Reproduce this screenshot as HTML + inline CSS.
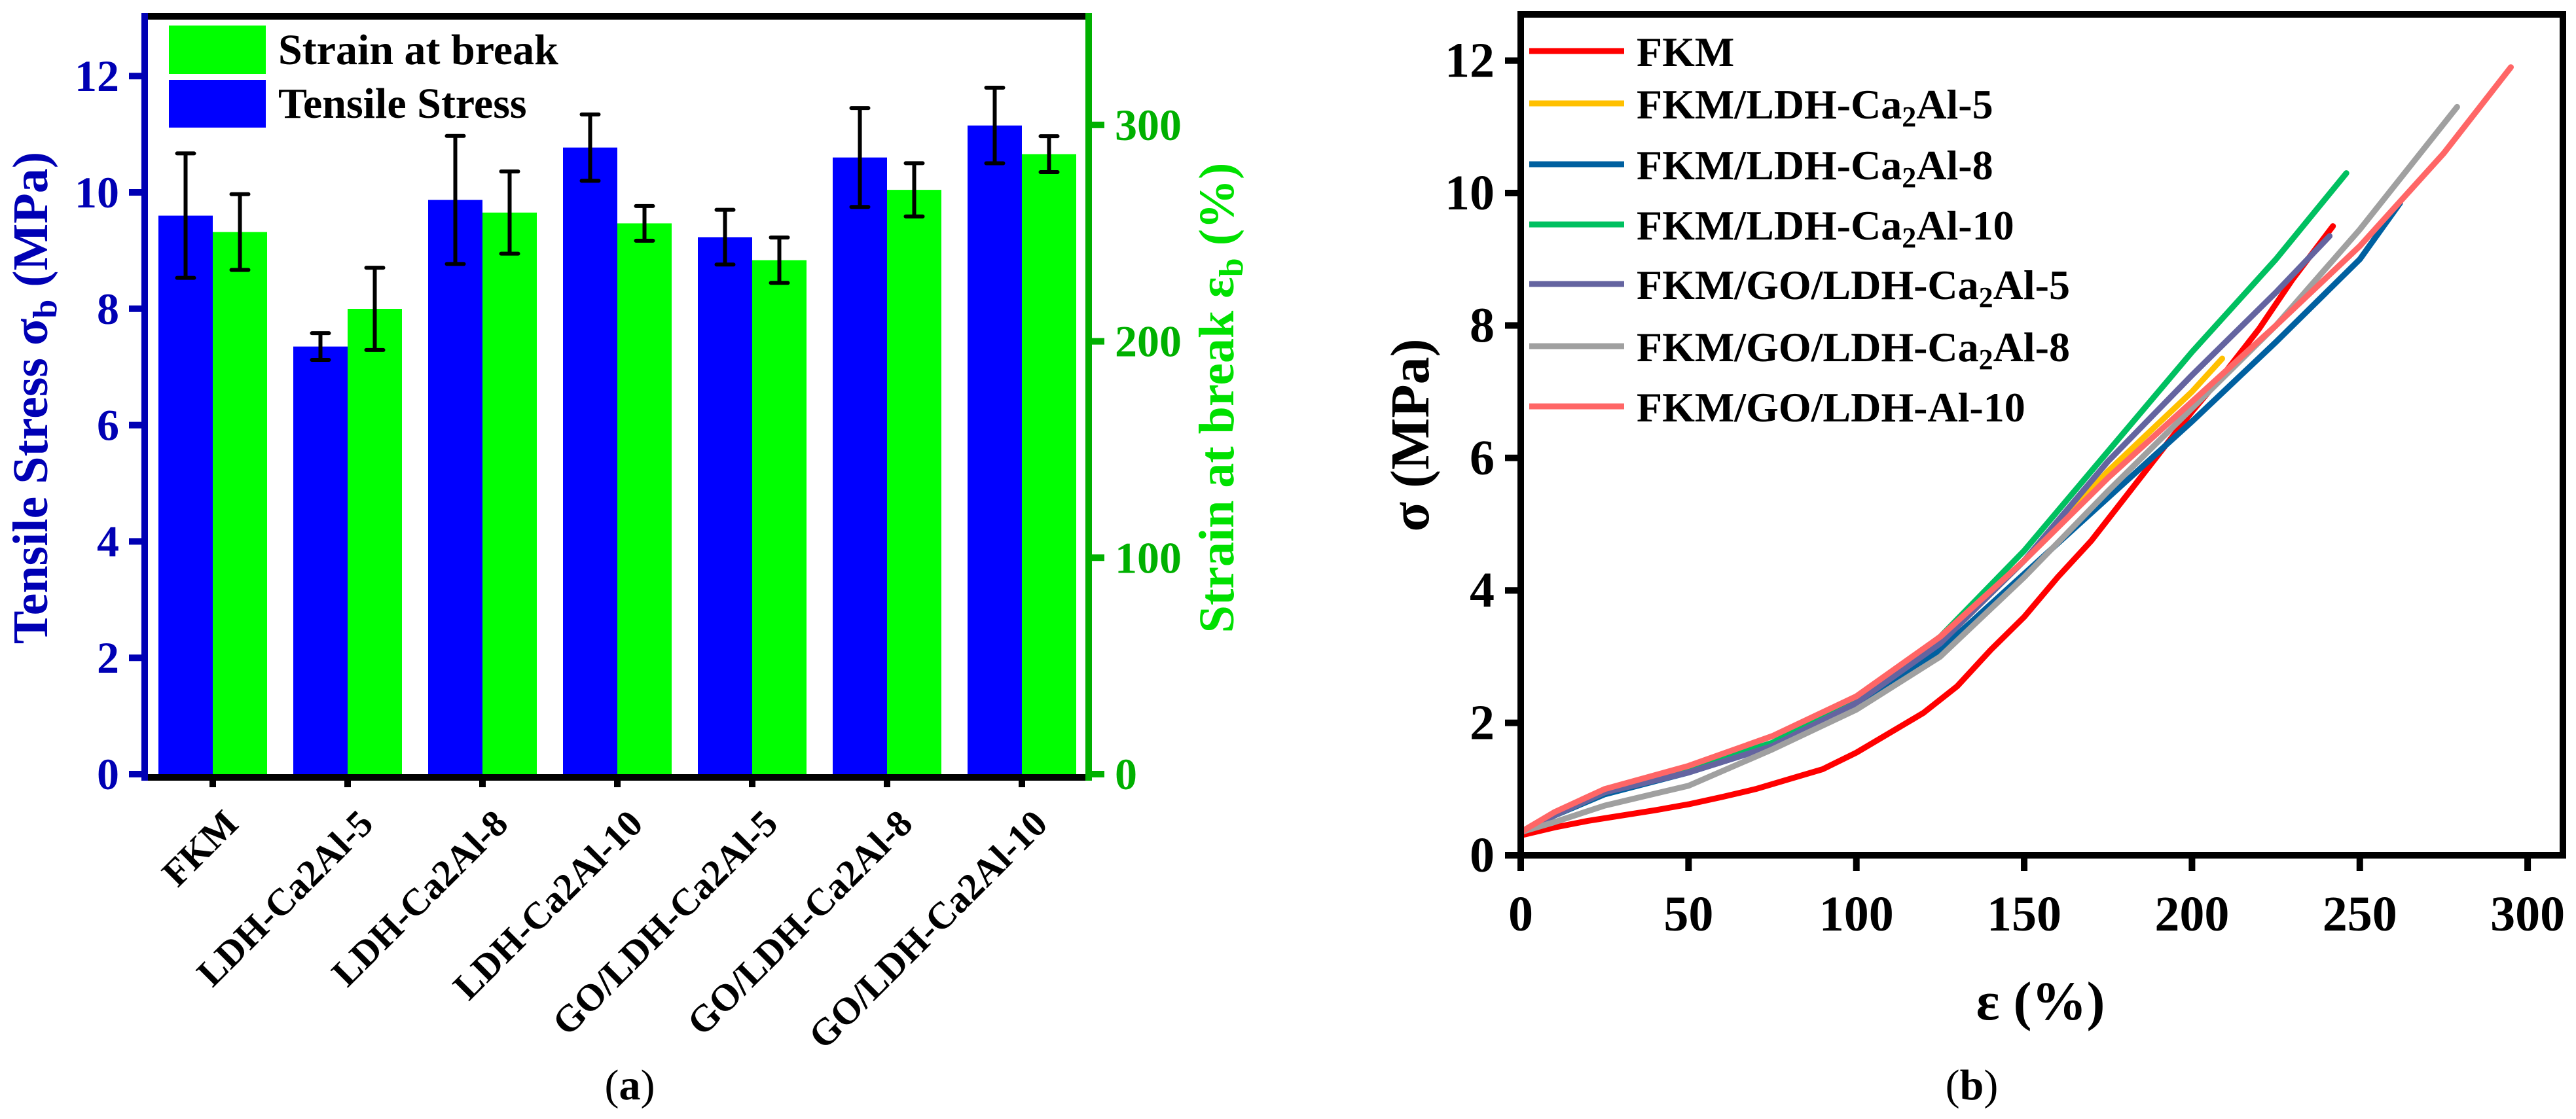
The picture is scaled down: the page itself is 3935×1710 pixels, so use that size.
<!DOCTYPE html>
<html><head><meta charset="utf-8">
<style>
html,body{margin:0;padding:0;background:#fff;}
svg{display:block;font-family:"Liberation Serif","DejaVu Serif",serif;font-weight:bold;}
</style></head>
<body>
<svg id="fig" width="3935" height="1710" viewBox="0 0 3935 1710" xmlns="http://www.w3.org/2000/svg" font-family="Liberation Serif, serif">
<g id="pa"></g>
<g id="pb"></g>
<text x="962" y="1680" font-size="66" font-weight="normal" text-anchor="middle">(<tspan font-weight="bold">a</tspan>)</text>
<text x="3012" y="1680" font-size="66" font-weight="normal" text-anchor="middle">(<tspan font-weight="bold">b</tspan>)</text>
</svg>
<script>
const categories = ["FKM","LDH-Ca2Al-5","LDH-Ca2Al-8","LDH-Ca2Al-10","GO/LDH-Ca2Al-5","GO/LDH-Ca2Al-8","GO/LDH-Ca2Al-10"];
const stressVals = [9.6, 7.35, 9.87, 10.77, 9.23, 10.6, 11.15];
const stressErr = [1.07, 0.23, 1.1, 0.57, 0.47, 0.85, 0.65];
const strainVals = [250.5, 215, 259.5, 254.5, 237.5, 270, 286.5];
const strainErr = [17.5, 19, 19, 8, 10.5, 12.3, 8.3];
const leftTicks = [0,2,4,6,8,10,12];
const rightTicks = [0,100,200,300];

const xTicksB = [0,50,100,150,200,250,300];
const yTicksB = [0,2,4,6,8,10,12];
const seriesNames = ["FKM","FKM/LDH-Ca2Al-5","FKM/LDH-Ca2Al-8","FKM/LDH-Ca2Al-10","FKM/GO/LDH-Ca2Al-5","FKM/GO/LDH-Ca2Al-8","FKM/GO/LDH-Al-10"];
const sFKM_x = [0,10,20,30,40,50,60,70,80,90,100,110,120,130,140,150,160,170,180,190,200,210,220,230,242];
const sFKM_y = [0.3,0.42,0.52,0.6,0.68,0.77,0.88,1.0,1.15,1.3,1.55,1.85,2.15,2.55,3.1,3.6,4.2,4.75,5.4,6.05,6.7,7.3,7.95,8.7,9.5];
const sL5_x = [0,10,25,50,75,100,125,150,175,200,209];
const sL5_y = [0.35,0.6,0.95,1.28,1.68,2.3,3.2,4.45,5.8,7.0,7.5];
const sL8_x = [0,10,25,50,75,100,125,150,175,200,225,250,262];
const sL8_y = [0.35,0.6,0.92,1.25,1.65,2.25,3.1,4.25,5.4,6.55,7.75,9.0,9.85];
const sL10_x = [0,10,25,50,75,100,125,150,175,200,225,246];
const sL10_y = [0.35,0.6,0.95,1.3,1.7,2.35,3.3,4.6,6.1,7.6,9.0,10.3];
const sG5_x = [0,10,25,50,75,100,125,150,175,200,225,241];
const sG5_y = [0.35,0.6,0.95,1.25,1.65,2.3,3.2,4.45,5.95,7.25,8.5,9.35];
const sG8_x = [0,10,25,50,75,100,125,150,175,200,225,250,279];
const sG8_y = [0.35,0.5,0.75,1.05,1.6,2.2,3.0,4.2,5.5,6.75,8.0,9.45,11.3];
const sG10_x = [0,10,25,50,75,100,125,150,175,200,225,250,275,295];
const sG10_y = [0.35,0.65,1.0,1.35,1.8,2.4,3.3,4.45,5.7,6.85,8.0,9.2,10.6,11.9];
const seriesX = [sFKM_x,sL5_x,sL8_x,sL10_x,sG5_x,sG8_x,sG10_x];
const seriesY = [sFKM_y,sL5_y,sL8_y,sL10_y,sG5_y,sG8_y,sG10_y];
const seriesColors = ["#ff0000","#ffc000","#0060a0","#00c060","#6464a0","#a0a0a0","#ff6666"];

const NS="http://www.w3.org/2000/svg";
function mk(parent,tag,attrs){const e=document.createElementNS(NS,tag);for(const k in attrs)e.setAttribute(k,attrs[k]);parent.appendChild(e);return e;}

// ---------- Panel A ----------
const pa=document.getElementById('pa');
const AL=221, AR=1663, AT=25, AB=1183;
const ya=v=>AB-v*88.9;
const ya2=p=>AB-p*3.307;
const xc=i=>325+i*206;
const bw=83;
categories.forEach((c,i)=>{
  const b=mk(pa,'rect',{x:xc(i)-bw,y:ya(stressVals[i]),width:bw,height:AB-ya(stressVals[i]),fill:'#0000ff'});
  
  
  const g=mk(pa,'rect',{x:xc(i),y:ya2(strainVals[i]),width:bw,height:AB-ya2(strainVals[i]),fill:'#00ff00'});
  
  
  [[xc(i)-bw/2,ya(stressVals[i]+stressErr[i]),ya(stressVals[i]-stressErr[i]),'stress-error-bar-'],
   [xc(i)+bw/2,ya2(strainVals[i]+strainErr[i]),ya2(strainVals[i]-strainErr[i]),'strain-error-bar-']].forEach(e=>{
    const eg=mk(pa,'path',{d:`M${e[0]},${e[1]}V${e[2]}M${e[0]-13},${e[1]}h26M${e[0]-13},${e[2]}h26`,stroke:'#000','stroke-width':6,fill:'none','stroke-linecap':'round'});
    
    
  });
  const t=mk(pa,'path',{d:`M${xc(i)},${AB}v20`,stroke:'#000','stroke-width':10});
  
  
  const lb=mk(pa,'text',{x:xc(i)+42,y:1262,'font-size':58,'text-anchor':'end',transform:`rotate(-45 ${xc(i)+42} 1262)`,fill:'#000'});
  lb.textContent=c;
  
  
});
mk(pa,'path',{d:`M${AL},${AT}H${AR}`,stroke:'#000','stroke-width':10});
mk(pa,'path',{d:`M${AL},${AB+5}H${AR}`,stroke:'#000','stroke-width':10});
mk(pa,'path',{d:`M${AL},${AT-5}V${AB+10}`,stroke:'#0000b4','stroke-width':10});
mk(pa,'path',{d:`M${AR},${AT-5}V${AB+10}`,stroke:'#00b000','stroke-width':10});
leftTicks.forEach(v=>{
  const t=mk(pa,'path',{d:`M${AL-24},${ya(v)}H${AL}`,stroke:'#0000b4','stroke-width':10});
  
  
  const l=mk(pa,'text',{x:182,y:ya(v)+23,'font-size':68,'text-anchor':'end',fill:'#0000b4'});
  l.textContent=v;
  
  
});
rightTicks.forEach(v=>{
  const t=mk(pa,'path',{d:`M${AR},${ya2(v)}H${AR+24}`,stroke:'#00b000','stroke-width':10});
  
  
  const l=mk(pa,'text',{x:1703,y:ya2(v)+23,'font-size':68,'text-anchor':'start',fill:'#00b000'});
  l.textContent=v;
  
  
});
const lt=mk(pa,'text',{x:72,y:608,'font-size':76,'text-anchor':'middle',fill:'#0000b4',transform:'rotate(-90 72 608)'});
lt.innerHTML='Tensile Stress σ<tspan font-size="52" dy="14">b</tspan><tspan dy="-14"> (MPa)</tspan>';


const rt=mk(pa,'text',{x:1884,y:608,'font-size':76,'text-anchor':'middle',fill:'#00e000',transform:'rotate(-90 1884 608)'});
rt.innerHTML='Strain at break ε<tspan font-size="52" dy="14">b</tspan><tspan dy="-14"> (%)</tspan>';


mk(pa,'rect',{x:258,y:39,width:148,height:74,fill:'#00ff00'});
mk(pa,'rect',{x:258,y:122,width:148,height:73,fill:'#0000ff'});
const l1=mk(pa,'text',{x:425,y:98,'font-size':66,fill:'#000'});l1.textContent='Strain at break';


const l2=mk(pa,'text',{x:425,y:180,'font-size':66,fill:'#000'});l2.textContent='Tensile Stress';



// ---------- Panel B ----------
const pb=document.getElementById('pb');
const BL=2323, BR=3915, BT=22, BB=1307;
const xb=v=>BL+v*5.127;
const yb=v=>BB-v*101.2;
seriesNames.forEach((n,s)=>{
  const d=seriesX[s].map((x,k)=>(k?'L':'M')+xb(x).toFixed(1)+','+yb(seriesY[s][k]).toFixed(1)).join('');
  const p=mk(pb,'path',{d:d,stroke:seriesColors[s],'stroke-width':9,fill:'none','stroke-linejoin':'round','stroke-linecap':'round'});
  
  
});
const fr=mk(pb,'rect',{x:BL,y:BT,width:BR-BL,height:BB-BT,fill:'none',stroke:'#000','stroke-width':10});


xTicksB.forEach(v=>{
  const t=mk(pb,'path',{d:`M${xb(v)},${BB}v24`,stroke:'#000','stroke-width':10});
  
  
  const l=mk(pb,'text',{x:xb(v),y:1422,'font-size':76,'text-anchor':'middle',fill:'#000'});
  l.textContent=v;
  
  
});
yTicksB.forEach(v=>{
  const t=mk(pb,'path',{d:`M${BL-24},${yb(v)}H${BL}`,stroke:'#000','stroke-width':10});
  
  
  const l=mk(pb,'text',{x:2283,y:yb(v)+25,'font-size':76,'text-anchor':'end',fill:'#000'});
  l.textContent=v;
  
  
});
const xt=mk(pb,'text',{x:3117,y:1558,'font-size':84,'text-anchor':'middle',fill:'#000'});
xt.textContent='ε (%)';


const yt=mk(pb,'text',{x:2182,y:665,'font-size':84,'text-anchor':'middle',fill:'#000',transform:'rotate(-90 2182 665)'});
yt.textContent='σ (MPa)';


const legY=[78,158,251,343,434,529,621];
seriesNames.forEach((n,s)=>{
  const ln=mk(pb,'path',{d:`M2336,${legY[s]}H2481`,stroke:seriesColors[s],'stroke-width':9});
  
  
  const t=mk(pb,'text',{x:2500,y:legY[s]+23,'font-size':64,fill:'#000'});
  if(n.includes('Ca2')){const parts=n.split('Ca2');t.innerHTML=parts[0]+'Ca<tspan font-size="44" dy="12">2</tspan><tspan dy="-12">'+parts[1]+'</tspan>';}
  else t.textContent=n;
  
  
});
</script>
</body></html>
